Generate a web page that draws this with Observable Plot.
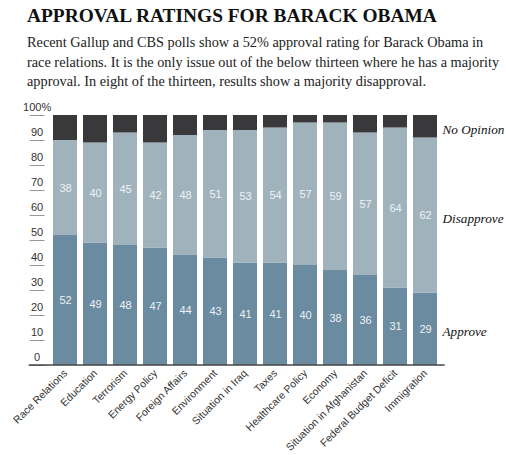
<!DOCTYPE html>
<html>
<head>
<meta charset="utf-8">
<script src="https://cdn.jsdelivr.net/npm/d3@7"></script>
<script src="https://cdn.jsdelivr.net/npm/@observablehq/plot@0.6"></script>
<style>
  html, body { margin: 0; padding: 0; background: #fff; }
  body { width: 506px; height: 455px; position: relative; overflow: hidden; }
  #title { position: absolute; left: 27px; top: 5px; font-family: "Liberation Serif", serif; font-weight: bold; font-size: 19.4px; color: #111; white-space: nowrap; }
  #sub { position: absolute; left: 27px; top: 33px; font-family: "Liberation Serif", serif; font-size: 14.3px; line-height: 19.5px; color: #222; }
  #sub div { white-space: nowrap; }
  #chart { position: absolute; left: 0; top: 95px; }
  #chart svg { overflow: visible; }
</style>
</head>
<body>
<div id="title"></div>
<div id="sub"></div>
<div id="chart"></div>
<script>
const titleText = "APPROVAL RATINGS FOR BARACK OBAMA";
const subtitleLines = [
  "Recent Gallup and CBS polls show a 52% approval rating for Barack Obama in",
  "race relations. It is the only issue out of the below thirteen where he has a majority",
  "approval. In eight of the thirteen, results show a majority disapproval."
];
const categories = ["Race Relations","Education","Terrorism","Energy Policy","Foreign Affairs","Environment","Situation in Iraq","Taxes","Healthcare Policy","Economy","Situation in Afghanistan","Federal Budget Deficit","Immigration"];
const approve    = [52,49,48,47,44,43,41,41,40,38,36,31,29];
const disapprove = [38,40,45,42,48,51,53,54,57,59,57,64,62];
const noOpinion  = [10,11, 7,11, 8, 6, 6, 5, 3, 3, 7, 5, 9];
const seriesNames = ["Approve","Disapprove","No Opinion"];
const seriesColors = ["#6a8ba0","#a0b3bd","#39393b"];
const yTicks = [0,10,20,30,40,50,60,70,80,90,100];

document.getElementById("title").textContent = titleText;
const sub = document.getElementById("sub");
subtitleLines.forEach(l => { const d = document.createElement("div"); d.textContent = l; sub.appendChild(d); });

const values = [approve, disapprove, noOpinion];
const data = [];
seriesNames.forEach((s, si) => categories.forEach((c, ci) => data.push({category: c, series: s, value: values[si][ci]})));
const last = categories[categories.length - 1];

// baseline rule that also spans the tick column on the left
function baseline(index, scales, vals, dims) {
  const y0 = scales.y(0);
  const line = document.createElementNS("http://www.w3.org/2000/svg", "line");
  line.setAttribute("x1", dims.marginLeft - 16);
  line.setAttribute("x2", dims.width - dims.marginRight);
  line.setAttribute("y1", y0);
  line.setAttribute("y2", y0);
  line.setAttribute("stroke", "#444");
  line.setAttribute("stroke-width", 1.5);
  return line;
}

const chart = Plot.plot({
  width: 506,
  height: 360,
  marginLeft: 44.6,
  marginRight: 61.4,
  marginTop: 20,
  marginBottom: 90,
  style: {fontFamily: "'Liberation Sans', Arial, sans-serif", background: "transparent"},
  x: {domain: categories, padding: 0.2, label: null},
  y: {domain: [0, 100], label: null},
  color: {domain: seriesNames, range: seriesColors},
  marks: [
    Plot.barY(data, {x: "category", y: "value", fill: "series", order: seriesNames}),
    Plot.text(data.filter(d => d.series !== "No Opinion"), Plot.stackY({x: "category", y: "value", z: "series", order: seriesNames, text: d => String(d.value), fill: "#eef2f4", fontSize: 11})),
    Plot.text(data.filter(d => d.category === last), Plot.stackY({x: "category", y: "value", z: "series", order: seriesNames, text: "series", textAnchor: "start", dx: 17, dy: 3, fill: "#111", fontSize: 13.2, fontStyle: "italic", fontFamily: "'Liberation Serif', serif"})),
    Plot.axisY({ticks: yTicks, tickSize: 15, tickFormat: () => "", stroke: "#999"}),
    Plot.axisY({ticks: yTicks, tickSize: 0, tickPadding: 0, textAnchor: "middle", dx: -8, dy: -8, fill: "#333", fontSize: 11, tickFormat: d => d === 100 ? "100%" : String(d)}),
    Plot.axisX({tickSize: 0, tickRotate: -45, tickPadding: 6, fill: "#333", fontSize: 10.5}),
    baseline
  ]
});
document.getElementById("chart").appendChild(chart);
</script>
</body>
</html>
